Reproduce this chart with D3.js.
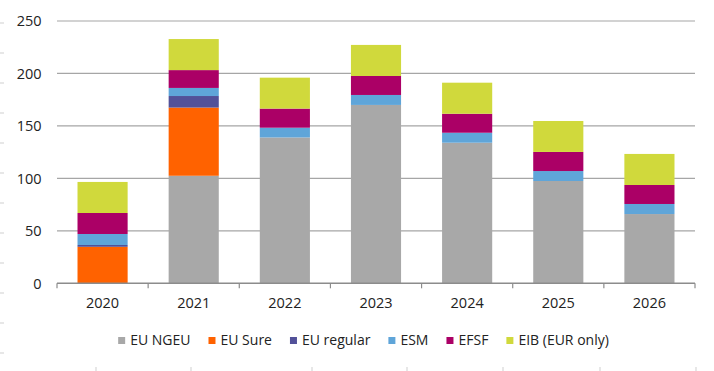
<!DOCTYPE html>
<html>
<head>
<meta charset="utf-8">
<script src="https://cdn.jsdelivr.net/npm/d3@7/dist/d3.min.js"></script>
<style>
  html, body { margin: 0; padding: 0; background: #fff; }
  svg { display: block; font-family: "Open Sans", sans-serif; }
</style>
</head>
<body>
<svg id="chart" width="714" height="371"></svg>
<script>
const years = ["2020", "2021", "2022", "2023", "2024", "2025", "2026"];
const seriesNames = ["EU NGEU", "EU Sure", "EU regular", "ESM", "EFSF", "EIB (EUR only)"];
const euNgeu    = [0, 102.5, 139, 170, 134, 97.5, 66];
const euSure    = [34.8, 65, 0, 0, 0, 0, 0];
const euRegular = [1.7, 11, 0, 0, 0, 0, 0];
const esm       = [10.5, 7.7, 9.3, 9.5, 9.5, 9.5, 9.6];
const efsf      = [20, 17, 18.2, 18.1, 18.1, 18.2, 18.1];
const eib       = [29.6, 29.6, 29.5, 29.6, 29.6, 29.5, 29.6];
const yTicks = [0, 50, 100, 150, 200, 250];
const colors = ["#a8a8a8", "#ff6200", "#525199", "#5fa5d9", "#ab0066", "#d0d93c"];

const seriesValues = [euNgeu, euSure, euRegular, esm, efsf, eib];
const rows = years.map((yr, i) => {
  const r = { year: yr };
  seriesNames.forEach((s, k) => r[s] = seriesValues[k][i]);
  return r;
});

const svg = d3.select("#chart");
const plotLeft = 57, plotRight = 695, plotTop = 21, plotBottom = 283.3;

const x = d3.scaleBand().domain(years).range([plotLeft, plotRight]).paddingInner(0.45).paddingOuter(0.225);
const xb = d3.scaleBand().domain(years).range([plotLeft, plotRight]).padding(0);
const y = d3.scaleLinear().domain([0, 250]).range([plotBottom, plotTop]);

// gridlines
svg.append("g").selectAll("line").data(yTicks.filter(d => d > 0)).join("line")
  .attr("x1", plotLeft).attr("x2", plotRight)
  .attr("y1", d => y(d)).attr("y2", d => y(d))
  .attr("stroke", "#a6a6a6").attr("stroke-width", 1.2);

// y labels
svg.append("g").selectAll("text").data(yTicks).join("text")
  .attr("x", 41.5).attr("y", d => y(d)).attr("dy", "0.36em")
  .attr("text-anchor", "end").attr("font-size", 14.5).attr("fill", "#222")
  .text(d => d);

// bars
const stack = d3.stack().keys(seriesNames)(rows);
svg.append("g").selectAll("g").data(stack).join("g")
  .attr("fill", (d, i) => colors[i])
  .selectAll("rect").data(d => d).join("rect")
  .attr("x", d => x(d.data.year))
  .attr("width", x.bandwidth())
  .attr("y", d => y(d[1]))
  .attr("height", d => Math.max(0, y(d[0]) - y(d[1])));

// x axis baseline and ticks
svg.append("line").attr("x1", plotLeft).attr("x2", plotRight).attr("y1", plotBottom).attr("y2", plotBottom)
  .attr("stroke", "#8c8c8c").attr("stroke-width", 1.5);
const boundaries = years.map(d => xb(d)).concat([plotRight]);
svg.append("g").selectAll("line").data(boundaries).join("line")
  .attr("x1", d => d).attr("x2", d => d).attr("y1", plotBottom).attr("y2", plotBottom + 5)
  .attr("stroke", "#8c8c8c").attr("stroke-width", 1.2);

// x labels
svg.append("g").selectAll("text").data(years).join("text")
  .attr("x", d => x(d) + x.bandwidth() / 2).attr("y", 307.5)
  .attr("text-anchor", "middle").attr("font-size", 14.5).attr("fill", "#222")
  .text(d => d);

// legend
const lg = svg.append("g");
const items = lg.selectAll("g").data(seriesNames).join("g");
items.append("rect").attr("width", 7).attr("height", 7).attr("y", -8)
  .attr("fill", (d, i) => colors[i]);
items.append("text").attr("x", 12).attr("y", 0).attr("font-size", 14).attr("fill", "#222").text(d => d);
let cx = 0;
items.each(function () {
  d3.select(this).attr("transform", `translate(${cx},345)`);
  cx += 12 + this.querySelector("text").getComputedTextLength() + 18;
});
const total = cx - 18;
lg.attr("transform", `translate(${(118 + 609) / 2 - total / 2},0)`);

// edge ruler marks
const leftMarks = d3.range(23, 360, 30);
svg.append("g").selectAll("line").data(leftMarks).join("line")
  .attr("x1", 0).attr("x2", 4).attr("y1", d => d).attr("y2", d => d)
  .attr("stroke", "#cfcfcf").attr("stroke-width", 1);
const bottomMarks = [96, 191, 312, 407, 503, 600, 696];
svg.append("g").selectAll("line").data(bottomMarks).join("line")
  .attr("x1", d => d).attr("x2", d => d).attr("y1", 367).attr("y2", 371)
  .attr("stroke", "#cfcfcf").attr("stroke-width", 1);
</script>
</body>
</html>
